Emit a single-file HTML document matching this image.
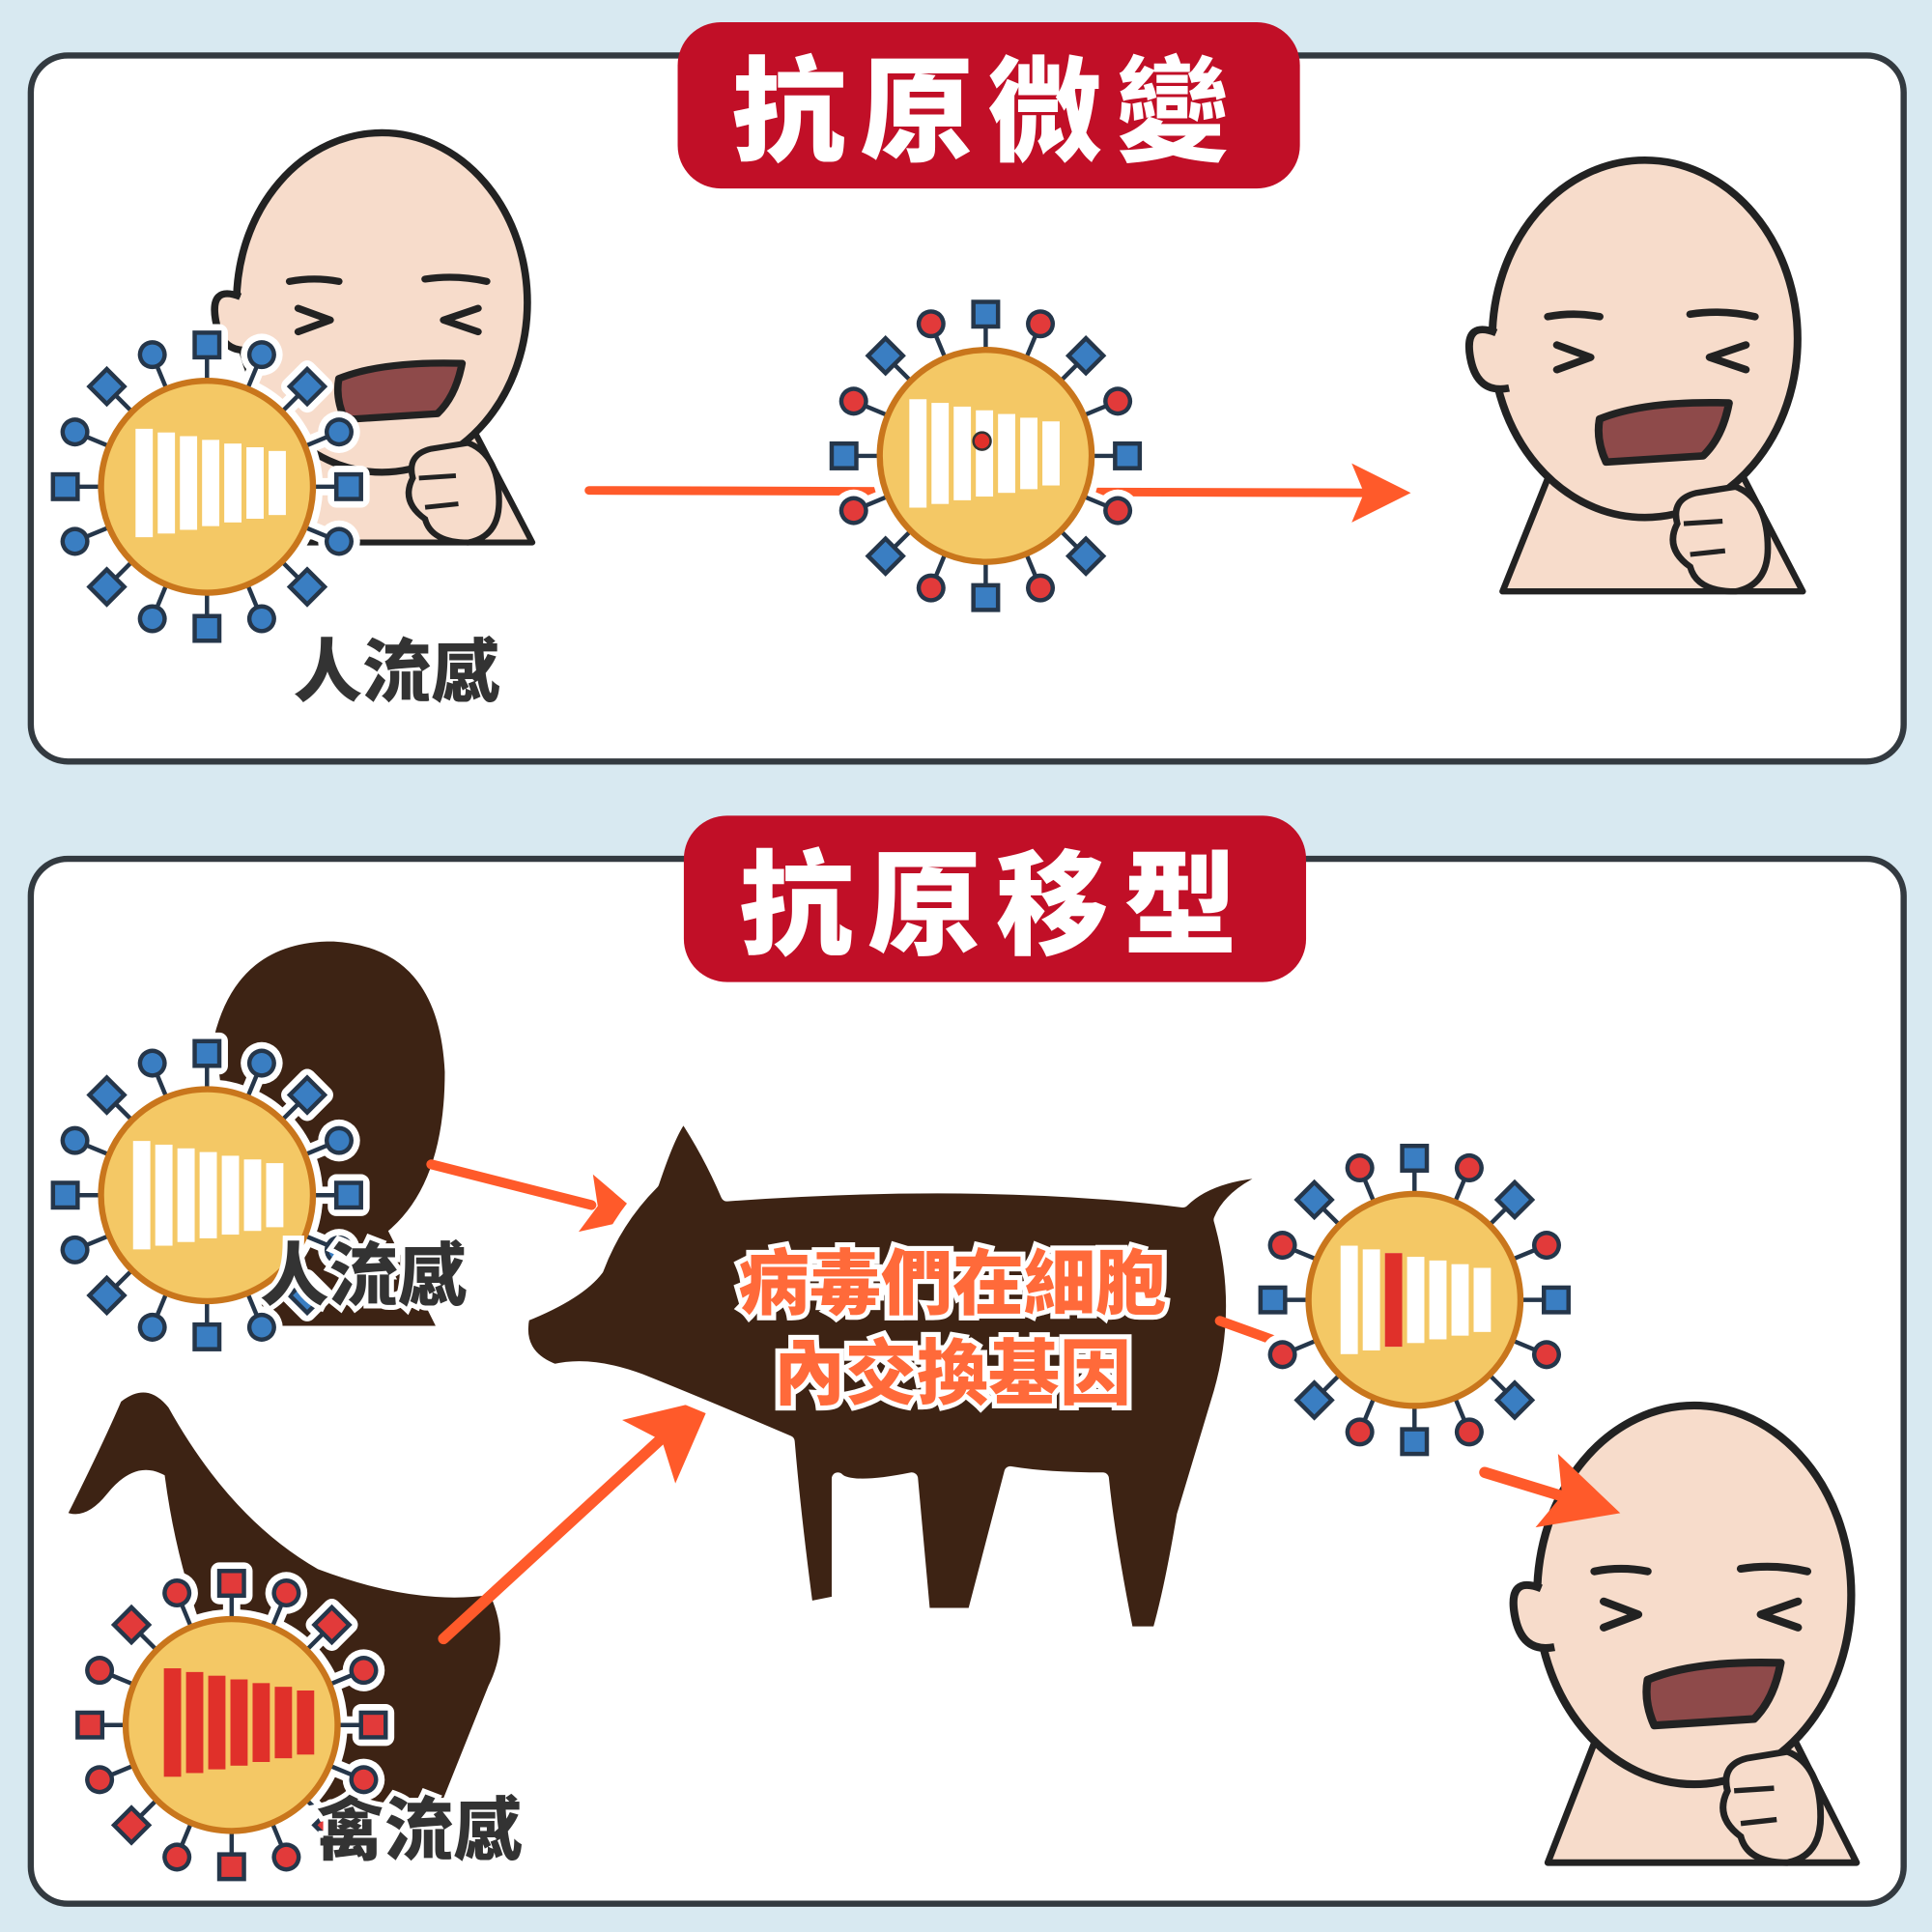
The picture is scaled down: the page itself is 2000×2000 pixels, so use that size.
<!DOCTYPE html>
<html><head><meta charset="utf-8">
<style>
html,body{margin:0;padding:0;background:#d8e9f1;}
svg{display:block;}
.t{font-family:"Liberation Sans","Noto Sans CJK TC",sans-serif;font-weight:900;}
</style></head>
<body>
<svg width="2000" height="2000" viewBox="0 0 1568 1568" xmlns="http://www.w3.org/2000/svg">
<defs>
<g id="s1"><line x1="0" y1="-80" x2="0" y2="-112"/><rect x="-10" y="-125" width="20" height="20"/></g>
<g id="c1"><line x1="0" y1="-80" x2="0" y2="-108"/><circle cx="0" cy="-116" r="10"/></g>
<g id="SQ">
 <use href="#s1"/><use href="#s1" transform="rotate(45)"/><use href="#s1" transform="rotate(90)"/><use href="#s1" transform="rotate(135)"/>
 <use href="#s1" transform="rotate(180)"/><use href="#s1" transform="rotate(225)"/><use href="#s1" transform="rotate(270)"/><use href="#s1" transform="rotate(315)"/>
</g>
<g id="CI">
 <use href="#c1" transform="rotate(22.5)"/><use href="#c1" transform="rotate(67.5)"/><use href="#c1" transform="rotate(112.5)"/><use href="#c1" transform="rotate(157.5)"/>
 <use href="#c1" transform="rotate(202.5)"/><use href="#c1" transform="rotate(247.5)"/><use href="#c1" transform="rotate(292.5)"/><use href="#c1" transform="rotate(337.5)"/>
</g>
<g id="halo">
 <g fill="#fff" stroke="#fff" stroke-width="14" stroke-linejoin="round"><use href="#SQ"/><use href="#CI"/></g>
 <circle r="94" fill="#fff"/>
</g>
<g id="barsW" fill="#fff">
 <rect x="-62" y="-44" width="14" height="88"/><rect x="-44" y="-41" width="14" height="82"/>
 <rect x="-26" y="-38" width="14" height="76"/><rect x="-8" y="-35" width="14" height="70"/>
 <rect x="10" y="-32" width="14" height="64"/><rect x="28" y="-29" width="14" height="58"/>
 <rect x="46" y="-26" width="14" height="52"/>
</g>
<g id="barsR" fill="#e0302a">
 <rect x="-62" y="-44" width="14" height="88"/><rect x="-44" y="-41" width="14" height="82"/>
 <rect x="-26" y="-38" width="14" height="76"/><rect x="-8" y="-35" width="14" height="70"/>
 <rect x="10" y="-32" width="14" height="64"/><rect x="28" y="-29" width="14" height="58"/>
 <rect x="46" y="-26" width="14" height="52"/>
</g>
<g id="virB">
 <use href="#halo"/>
 <g fill="#3a7ec2" stroke="#25364a" stroke-width="3.5"><use href="#SQ"/><use href="#CI"/></g>
 <circle r="86" fill="#f4c865" stroke="#c9761c" stroke-width="5"/>
</g>
<g id="virR">
 <use href="#halo"/>
 <g fill="#e23a3a" stroke="#25364a" stroke-width="3.5"><use href="#SQ"/><use href="#CI"/></g>
 <circle r="86" fill="#f4c865" stroke="#c9761c" stroke-width="5"/>
</g>
<g id="virM">
 <use href="#halo"/>
 <g fill="#3a7ec2" stroke="#25364a" stroke-width="3.5"><use href="#SQ"/></g>
 <g fill="#e23a3a" stroke="#25364a" stroke-width="3.5"><use href="#CI"/></g>
 <circle r="86" fill="#f4c865" stroke="#c9761c" stroke-width="5"/>
</g>
<g id="face">
 <path d="M-118,200 L-80,80 Q-120,20 -120,-20 Q-130,-150 0,-160 Q125,-155 125,-10 Q125,90 70,120 L130,200 Z" fill="#fff"/>
 <path d="M-110,195 L-70,90 L70,90 L122,195 Z" fill="#f7dccb" stroke="#222" stroke-width="5" stroke-linejoin="round"/>
 <ellipse cx="0" cy="-10" rx="118" ry="145" fill="#f7dccb" stroke="#222" stroke-width="6"/>
 <path d="M-115,-15 Q-140,-25 -135,5 Q-130,35 -105,30" fill="#f7dccb" stroke="#222" stroke-width="6"/>
 <path d="M-75,-28 Q-55,-32 -35,-28 M35,-30 Q60,-34 85,-28" stroke="#222" stroke-width="6" fill="none" stroke-linecap="round"/>
 <path d="M-68,-5 L-42,5 L-68,15 M78,-5 L50,5 L78,15" stroke="#222" stroke-width="6" fill="none" stroke-linecap="round" stroke-linejoin="round"/>
 <path d="M-35,55 Q0,40 65,42 Q60,70 45,85 L-30,90 Q-38,72 -35,55 Z" fill="#8e4a4a" stroke="#222" stroke-width="6" stroke-linejoin="round"/>
 <path d="M40,115 Q20,120 25,140 Q15,160 35,175 Q40,195 70,195 Q95,190 95,160 Q95,120 70,110 Z" fill="#f7dccb" stroke="#222" stroke-width="5"/>
 <path d="M30,140 L60,138 M35,165 L62,162" stroke="#222" stroke-width="4" fill="none"/>
</g>
<g id="ah">
 <path d="M0,0 L-48,-24 L-38,0 L-48,24 Z" fill="#ff5a2a"/>
</g>
</defs>

<rect width="1568" height="1568" fill="#d8e9f1"/>

<!-- Panel 1 -->
<rect x="25" y="45" width="1520" height="573" rx="30" fill="#fff" stroke="#333a40" stroke-width="5"/>
<rect x="550" y="18" width="505" height="135" rx="35" fill="#c10f27"/>
<text class="t" x="802" y="123" font-size="92" fill="#fff" text-anchor="middle" letter-spacing="12">抗原微變</text>

<use href="#face" transform="translate(310,255) scale(1.0,0.95)"/>
<use href="#virB" transform="translate(168,395)"/>
<use href="#barsW" transform="translate(172,392)"/>
<text class="t" x="322" y="565" font-size="56" fill="#333" stroke="#fff" stroke-width="8" paint-order="stroke" text-anchor="middle">人流感</text>

<line x1="478" y1="398" x2="1110" y2="400" stroke="#ff5a2a" stroke-width="7" stroke-linecap="round"/>
<use href="#ah" transform="translate(1145,400)"/>
<use href="#virM" transform="translate(800,370)"/>
<g transform="translate(800,368)">
<use href="#barsW"/>
<circle cx="-3" cy="-10" r="7" fill="#e0302a" stroke="#333" stroke-width="2"/>
</g>

<use href="#face" transform="translate(1335,285) scale(1.05,1.0)"/>

<!-- Panel 2 -->
<rect x="25" y="697" width="1520" height="848" rx="30" fill="#fff" stroke="#333a40" stroke-width="5"/>
<rect x="555" y="662" width="505" height="135" rx="35" fill="#c10f27"/>
<text class="t" x="808" y="767" font-size="92" fill="#fff" text-anchor="middle" letter-spacing="12">抗原移型</text>

<path d="M170,840 Q190,760 270,760 Q360,765 365,870 Q365,960 320,1000 L360,1080 L200,1080 Z" fill="#3d2314" stroke="#fff" stroke-width="8"/>
<use href="#virB" transform="translate(168,970)"/>
<use href="#barsW" transform="translate(170,970)"/>
<text class="t" x="295" y="1055" font-size="56" fill="#333" stroke="#fff" stroke-width="8" paint-order="stroke" text-anchor="middle">人流感</text>
<line x1="350" y1="945" x2="480" y2="978" stroke="#ff5a2a" stroke-width="8" stroke-linecap="round"/>
<use href="#ah" transform="translate(522,988) rotate(14)"/>

<path d="M50,1230 Q80,1170 95,1135 Q120,1115 140,1140 Q190,1230 260,1270 Q340,1300 400,1290 Q420,1330 400,1370 Q380,1420 360,1470 L240,1470 Q150,1350 130,1200 Q110,1190 90,1215 Q70,1240 50,1230 Z" fill="#3d2314" stroke="#fff" stroke-width="8"/>
<use href="#virR" transform="translate(188,1400)"/>
<use href="#barsR" transform="translate(195,1398)"/>
<text class="t" x="340" y="1505" font-size="56" fill="#333" stroke="#fff" stroke-width="8" paint-order="stroke" text-anchor="middle">禽流感</text>
<line x1="360" y1="1330" x2="545" y2="1160" stroke="#ff5a2a" stroke-width="9" stroke-linecap="round"/>
<use href="#ah" transform="translate(578,1135) rotate(-40) scale(1.4)"/>

<path d="M530,960 Q545,915 555,905 Q575,935 590,970 Q800,955 960,975 Q985,950 1045,950 Q1000,965 990,990 Q1010,1060 990,1130 Q975,1180 960,1230 Q950,1290 940,1325 L915,1325 Q900,1250 895,1200 Q850,1200 820,1195 L790,1310 L750,1310 L740,1200 Q690,1210 680,1200 L680,1300 L655,1305 Q645,1230 640,1170 Q570,1140 520,1120 Q480,1105 450,1112 Q418,1100 425,1068 Q470,1050 485,1030 Q500,990 530,960 Z" fill="#3d2314" stroke="#fff" stroke-width="10" stroke-linejoin="round"/>
<text class="t" x="773" y="1062" font-size="58" fill="#ff6a3a" stroke="#fff" stroke-width="8" paint-order="stroke" text-anchor="middle">病毒們在細胞</text>
<text class="t" x="773" y="1135" font-size="58" fill="#ff6a3a" stroke="#fff" stroke-width="8" paint-order="stroke" text-anchor="middle">內交換基因</text>

<line x1="990" y1="1072" x2="1040" y2="1090" stroke="#ff5a2a" stroke-width="8" stroke-linecap="round"/>
<use href="#virM" transform="translate(1148,1055)"/>
<g transform="translate(1150,1055)">
<use href="#barsW"/>
<rect x="-26" y="-38" width="14" height="76" fill="#e0302a"/>
</g>

<use href="#face" transform="translate(1375,1305) scale(1.08,1.06)"/>
<line x1="1205" y1="1195" x2="1280" y2="1218" stroke="#ff5a2a" stroke-width="9" stroke-linecap="round"/>
<use href="#ah" transform="translate(1315,1228) rotate(17) scale(1.3)"/>
</svg>
</body></html>
